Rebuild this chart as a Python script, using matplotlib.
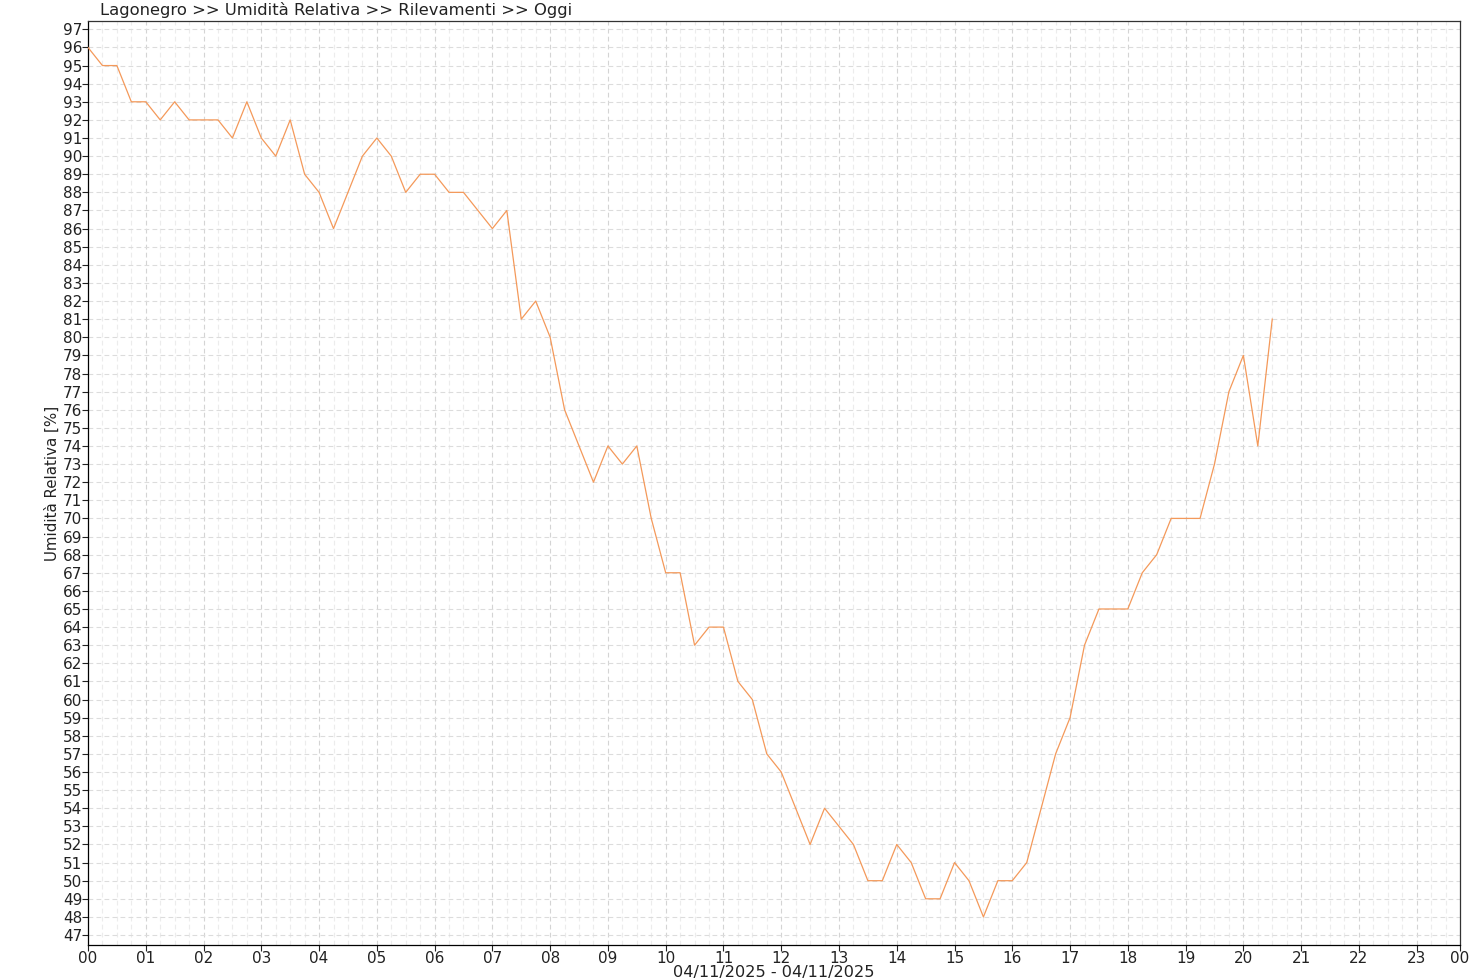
import matplotlib
matplotlib.use("Agg")
import matplotlib.pyplot as plt
import numpy as np

plt.rcParams["font.family"] = ["DejaVu Sans"]

# readings every 15 minutes, 00:00 -> 20:30
umidita = [
    96, 95, 95, 93,
    93, 92, 93, 92,
    92, 92, 91, 93,
    91, 90, 92, 89,
    88, 86, 88, 90,
    91, 90, 88, 89,
    89, 88, 88, 87,
    86, 87, 81, 82,
    80, 76, 74, 72,
    74, 73, 74, 70,
    67, 67, 63, 64,
    64, 61, 60, 57,
    56, 54, 52, 54,
    53, 52, 50, 50,
    52, 51, 49, 49,
    51, 50, 48, 50,
    50, 51, 54, 57,
    59, 63, 65, 65,
    65, 67, 68, 70,
    70, 70, 73, 77,
    79, 74, 81,
]
ore = [i * 0.25 for i in range(len(umidita))]

hour_ticks = list(range(24)) + [23.75]
hour_labels = ["%02d" % h for h in range(24)] + ["00"]
y_ticks = list(range(47, 98))

title = "Lagonegro >> Umidità Relativa >> Rilevamenti >> Oggi"
x_label = "04/11/2025 - 04/11/2025"
y_label = "Umidità Relativa [%]"

fig = plt.figure(figsize=(14.8, 9.8), dpi=100)
ax = fig.add_axes([88 / 1480, 1 - 945 / 980, (1460 - 88) / 1480, (945 - 21) / 980])

# grid: minor 15-min verticals, hourly verticals, integer horizontals
dash = (0, (4.3, 2.9))
for m in np.arange(0, 23.75, 0.25):
    if abs(m - round(m)) > 1e-6:
        ax.axvline(m, color="#ececec", lw=0.8, linestyle=dash, zorder=0)
for h in range(1, 24):
    ax.axvline(h, color="#d4d4d4", lw=0.8, linestyle=dash, zorder=0)
for v in y_ticks:
    ax.axhline(v, color="#dcdcdc", lw=0.8, linestyle=dash, zorder=0)

ax.plot(ore, umidita, color="#f4995a", lw=0.9, zorder=3)

ax.set_xlim(0, 23.75)
ax.set_ylim(46.45, 97.46)
ax.set_xticks(hour_ticks)
ax.set_xticklabels(hour_labels)
ax.set_yticks(y_ticks)
ax.tick_params(axis="both", direction="out", length=4, width=0.8, labelsize=11, colors="#222222")
ax.tick_params(axis="y", pad=0)
ax.tick_params(axis="x", pad=0.5)

for s in ax.spines.values():
    s.set_color("#333333")
    s.set_linewidth(0.9)
ax.spines["left"].set_color("#000000")
ax.spines["bottom"].set_color("#000000")

ax.set_xlabel(x_label, fontsize=11.6, labelpad=-1, color="#222222")
ax.set_ylabel(y_label, fontsize=10.8, labelpad=2, color="#222222")
fig.text(100 / 1480, 1 - 10 / 980, title, fontsize=11.8, ha="left", va="center", color="#222222")

fig.savefig("out.png", dpi=100)
